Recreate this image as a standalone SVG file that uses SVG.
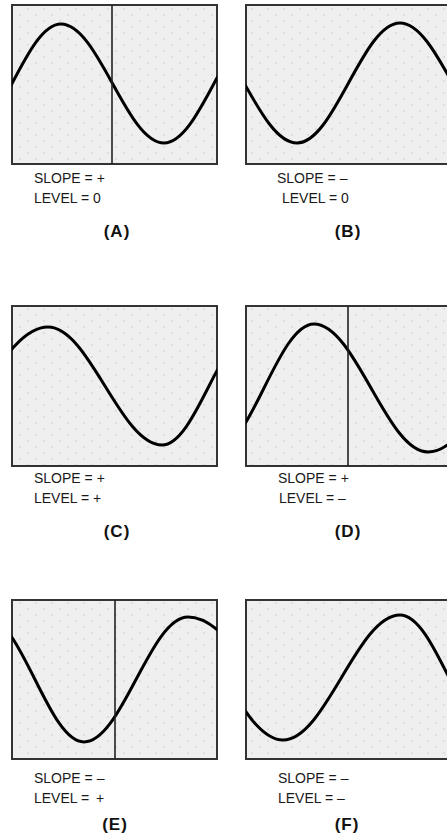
<svg xmlns="http://www.w3.org/2000/svg" width="447" height="837" viewBox="0 0 447 837">
<style>
.scr{fill:url(#dots);stroke:#333;stroke-width:2}
.wave{fill:none;stroke:#000;stroke-width:3;stroke-linejoin:round}
.trig{stroke:#222;stroke-width:1.6}
.t{font-family:"Liberation Sans",Arial,sans-serif;font-size:14px;fill:#1a1a1a}
.lab{font-family:"Liberation Sans",Arial,sans-serif;font-size:17px;font-weight:bold;fill:#111;text-anchor:middle;letter-spacing:1px}
</style>
<defs>
<pattern id="dots" width="16" height="12" patternUnits="userSpaceOnUse">
<rect width="16" height="12" fill="#efefef"/>
<circle cx="4" cy="3" r="0.8" fill="#c9c9c9"/>
<circle cx="12" cy="9" r="0.8" fill="#c9c9c9"/>
</pattern>
<clipPath id="cA"><rect x="12" y="5" width="205" height="159"/></clipPath>
<clipPath id="cB"><rect x="246" y="5" width="210" height="159"/></clipPath>
<clipPath id="cC"><rect x="12" y="306" width="205" height="160"/></clipPath>
<clipPath id="cD"><rect x="246" y="306" width="210" height="160"/></clipPath>
<clipPath id="cE"><rect x="12" y="600" width="205" height="159"/></clipPath>
<clipPath id="cF"><rect x="246" y="600" width="210" height="159"/></clipPath>
</defs>
<g id="panelA">
<rect class="scr" x="12" y="5" width="205" height="159"/>
<path class="wave" clip-path="url(#cA)" d="M-37,143 C-1.3,143 25.3,24 61,24 C98.5,24 126.5,143 164,143 C200.4,143 227.6,24 264,24"/>
<line class="trig" x1="112" y1="5" x2="112" y2="164"/>
<text class="t" x="34" y="183">SLOPE = +</text>
<text class="t" x="34" y="203">LEVEL = 0</text>
<text class="lab" x="117" y="237">(A)</text>
</g>
<g id="panelB">
<rect class="scr" x="246" y="5" width="210" height="159"/>
<path class="wave" clip-path="url(#cB)" d="M191,23 C229.6,23 258.4,143 297,143 C334.5,143 362.5,23 400,23 C438.2,23 466.8,143 505,143"/>
<text class="t" x="277" y="183">SLOPE = –</text>
<text class="t" x="282" y="203">LEVEL = 0</text>
<text class="lab" x="348" y="237">(B)</text>
</g>
<g id="panelC">
<rect class="scr" x="12" y="306" width="205" height="160"/>
<path class="wave" clip-path="url(#cC)" d="M-79,445 C-32.8,445 1.8,327 48,327 C89.5,327 120.5,445 162,445 C196.2,445 221.8,327 256,327"/>
<text class="t" x="34" y="483">SLOPE = +</text>
<text class="t" x="34" y="503">LEVEL = +</text>
<text class="lab" x="117" y="537">(C)</text>
</g>
<g id="panelD">
<rect class="scr" x="246" y="306" width="210" height="160"/>
<path class="wave" clip-path="url(#cD)" d="M214,452 C250.4,452 277.6,324 314,324 C355.5,324 386.5,452 428,452 C475.3,452 510.7,324 558,324"/>
<line class="trig" x1="348" y1="306" x2="348" y2="466"/>
<text class="t" x="278" y="483">SLOPE = +</text>
<text class="t" x="279" y="503">LEVEL = –</text>
<text class="lab" x="348" y="537">(D)</text>
</g>
<g id="panelE">
<rect class="scr" x="12" y="600" width="205" height="159"/>
<path class="wave" clip-path="url(#cE)" d="M-14,617 C21.7,617 48.3,742 84,742 C121.9,742 150.1,617 188,617 C239.7,617 278.3,742 330,742"/>
<line class="trig" x1="115" y1="600" x2="115" y2="759"/>
<text class="t" x="34" y="783">SLOPE = –</text>
<text class="t" x="34" y="803">LEVEL = <tspan dx="3">+</tspan></text>
<text class="lab" x="115" y="830">(E)</text>
</g>
<g id="panelF">
<rect class="scr" x="246" y="600" width="210" height="159"/>
<path class="wave" clip-path="url(#cF)" d="M165,615 C208,615 240,740 283,740 C325.6,740 357.4,615 400,615 C435.7,615 462.3,740 498,740"/>
<text class="t" x="278" y="783">SLOPE = –</text>
<text class="t" x="278" y="803">LEVEL = –</text>
<text class="lab" x="347" y="830">(F)</text>
</g>
<g id="connectors"/>
</svg>
